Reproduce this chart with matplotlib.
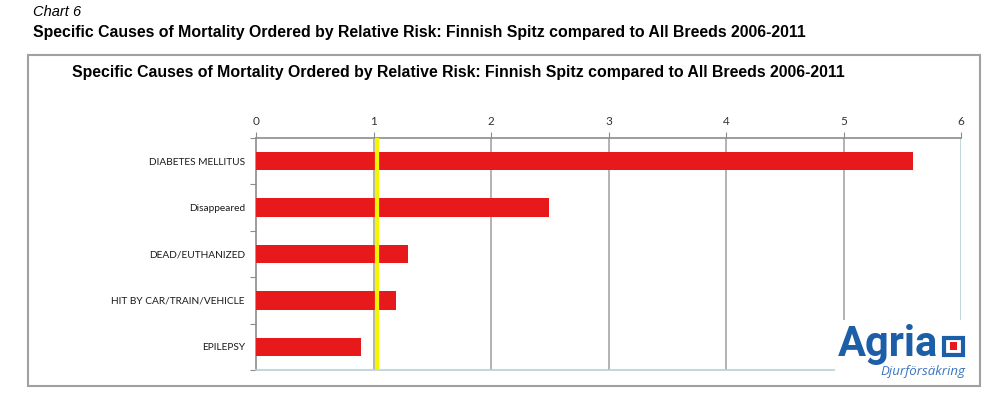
import matplotlib.pyplot as plt
from matplotlib.patches import Rectangle

causes = ['DIABETES MELLITUS', 'Disappeared', 'DEAD/EUTHANIZED',
          'HIT BY CAR/TRAIN/VEHICLE', 'EPILEPSY']
relative_risk = [5.59, 2.49, 1.29, 1.19, 0.89]
reference_line = 1.03
xticks = [0, 1, 2, 3, 4, 5, 6]

title = 'Specific Causes of Mortality Ordered by Relative Risk: Finnish Spitz compared to All Breeds 2006-2011'

fig = plt.figure(figsize=(9.93, 3.93), dpi=100)

# heading above the box
fig.text(33 / 993, 1 - 12 / 393, 'Chart 6', fontsize=10.5, style='italic',
         family='Liberation Sans', va='center', ha='left')
fig.text(33 / 993, 1 - 32 / 393, title, fontsize=11.4, weight='bold',
         family='Liberation Sans', va='center', ha='left')

# frame around the chart
frame = Rectangle((28 / 993, 1 - 386 / 393), 952 / 993, 331 / 393,
                  transform=fig.transFigure, fill=False,
                  edgecolor='#a0a0a0', linewidth=1.5)
fig.patches.append(frame)
fig.text(72 / 993, 1 - 73 / 393, title, fontsize=11.4, weight='bold',
         family='Liberation Sans', va='center', ha='left')

ax = fig.add_axes([256 / 993, 1 - 370 / 393, 705 / 993, 232 / 393])
y = list(range(len(causes)))
ax.barh(y, relative_risk, height=0.4, color='#e8191a', zorder=3)
ax.axvline(reference_line, color='#f5f500', linewidth=3, zorder=4)

ax.set_xlim(0, 6)
ax.set_ylim(len(causes) - 0.5, -0.5)
ax.xaxis.tick_top()
ax.set_xticks(xticks)
ax.set_xticklabels([str(t) for t in xticks], fontsize=8.5, family='Lato', color='#333333')
ax.tick_params(axis='x', length=4, color='#8c8c8c', pad=4)
for t in xticks[1:]:
    ax.axvline(t, color='#a6a6a6' if t < 6 else '#b8d0d8', linewidth=1.2, zorder=1)

ax.set_yticks([i + 0.5 for i in range(-1, len(causes))], minor=False)
ax.set_yticklabels([])
ax.set_yticks(y, minor=True)
ax.set_yticklabels(causes, minor=True, fontsize=7.3, family='Lato', color='#1a1a1a')
ax.tick_params(axis='y', which='major', length=4, color='#8c8c8c', direction='out')
ax.tick_params(axis='y', which='minor', length=0, pad=8)

for side in ['top', 'left']:
    ax.spines[side].set_color('#8c8c8c')
    ax.spines[side].set_linewidth(1.2)
ax.spines['right'].set_visible(False)
ax.spines['bottom'].set_color('#b8d0d8')
ax.spines['bottom'].set_linewidth(1.2)

# logo on a white patch covering the chart corner
fig.patches.append(Rectangle((835 / 993, 1 - 384 / 393), 142 / 993, 64 / 393,
                             transform=fig.transFigure, facecolor='white',
                             edgecolor='none'))
fig.text(938 / 993, 1 - 356 / 393, 'Agria', fontsize=30, weight='bold',
         family='Roboto', color='#1d5ea8', ha='right', va='baseline')
fig.patches.append(Rectangle((944 / 993, 1 - 355 / 393), 19 / 993, 17 / 393,
                             transform=fig.transFigure, facecolor='white',
                             edgecolor='#1d5ea8', linewidth=3))
fig.patches.append(Rectangle((950 / 993, 1 - 350 / 393), 7 / 993, 8 / 393,
                             transform=fig.transFigure, facecolor='#e8191a',
                             edgecolor='none'))
fig.text(965 / 993, 1 - 371 / 393, 'Djurförsäkring', fontsize=9.5, style='italic',
         family='Open Sans', color='#3a74c0', ha='right', va='center')

fig.savefig('out.png', dpi=100)
